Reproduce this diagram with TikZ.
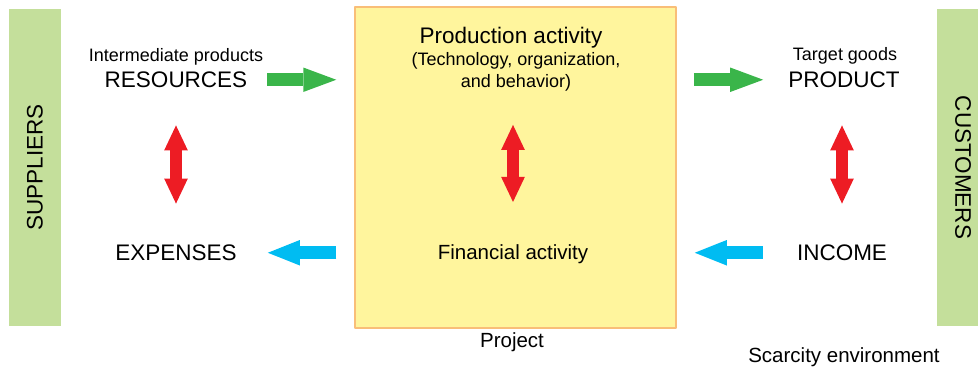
\documentclass[tikz,border=0pt]{standalone}
\usepackage{fontspec}
\setmainfont{Liberation Sans}
\usepackage{xcolor}
\usetikzlibrary{arrows.meta}
\definecolor{barGreen}{HTML}{C4DF9B}
\definecolor{boxYellow}{HTML}{FFF59D}
\definecolor{boxOrange}{HTML}{F9BE78}
\definecolor{arrGreen}{HTML}{3AB54A}
\definecolor{arrBlue}{HTML}{00BCF2}
\definecolor{arrRed}{HTML}{ED1C24}
\tikzset{
	flowgreen/.style={draw=arrGreen,line cap=butt,line width=12.7pt,-{Triangle[length=33pt,width=24.5pt,line width=0pt]}},
	flowblue/.style={draw=arrBlue,line cap=butt,line width=12.7pt,-{Triangle[length=32pt,width=25.5pt,line width=0pt]}},
	flowred/.style={draw=arrRed,line cap=butt,line width=11.7pt,{Triangle[length=25pt,width=23.7pt,line width=0pt]}-{Triangle[length=25pt,width=23.7pt,line width=0pt]}},
	bigtxt/.style={font=\fontsize{22.5}{26}\selectfont},
	midtxt/.style={font=\fontsize{20.5}{24}\selectfont},
	smalltxt/.style={font=\fontsize{18}{22}\selectfont},
	sidebar/.style={fill=barGreen,minimum width=317pt,minimum height=52pt,bigtxt}
}
\begin{document}
\begin{tikzpicture}[line cap=round,line join=round,x=1.0pt,y=-1.0pt,every node/.style={inner sep=0pt}]
			\clip(0,0) rectangle (978,369);
			\node[sidebar,rotate=90] (sup) at (35,167.5) {SUPPLIERS};
			\node[sidebar,rotate=-90] (cust) at (963,167.5) {CUSTOMERS};
			\node[draw=boxOrange,fill=boxYellow,line width=1.5pt,minimum width=321pt,minimum height=321pt] (box) at (515.5,167.5) {};
			\node[smalltxt,anchor=base] (intm) at (176,61.5) {Intermediate products};
			\node[bigtxt,anchor=base] (res) at (176,87.5) {RESOURCES};
			\node[bigtxt,anchor=base] (expn) at (176,260.5) {EXPENSES};
			\node[bigtxt,anchor=base] (prodact) at (511,44) {Production activity};
			\node[smalltxt,anchor=base] (tech) at (516,65.5) {(Technology, organization,};
			\node[smalltxt,anchor=base] (behav) at (516,88) {and behavior)};
			\node[midtxt,anchor=base] (fin) at (513,259) {Financial activity};
			\node[midtxt,anchor=base] (proj) at (512,347) {Project};
			\node[smalltxt,anchor=base] (target) at (845,61) {Target goods};
			\node[bigtxt,anchor=base] (prd) at (844,87.5) {PRODUCT};
			\node[bigtxt,anchor=base] (inc) at (842,260.5) {INCOME};
			\node[midtxt,anchor=base] (scarce) at (844,362) {Scarcity environment};
			\draw[flowgreen,shorten <=20pt,shorten >=18pt] (res.east) -- (res.east -| box.west);
			\draw[flowblue,shorten <=18pt,shorten >=31pt] (expn.east -| box.west) -- (expn.east);
			\draw[flowgreen,shorten <=17pt,shorten >=25pt] (prd.west -| box.east) -- (prd.west);
			\draw[flowblue,shorten <=34pt,shorten >=18pt] (inc.west) -- (inc.west -| box.east);
			\draw[flowred,shorten <=37.5pt,shorten >=41pt] (res.south) -- (expn.north);
			\draw[flowred,shorten <=33pt,shorten >=42pt] (fin.north |- behav.south) -- (fin.north);
			\draw[flowred,shorten <=37.5pt,shorten >=41pt] (inc.north |- prd.south) -- (inc.north);
		\end{tikzpicture}
\end{document}
